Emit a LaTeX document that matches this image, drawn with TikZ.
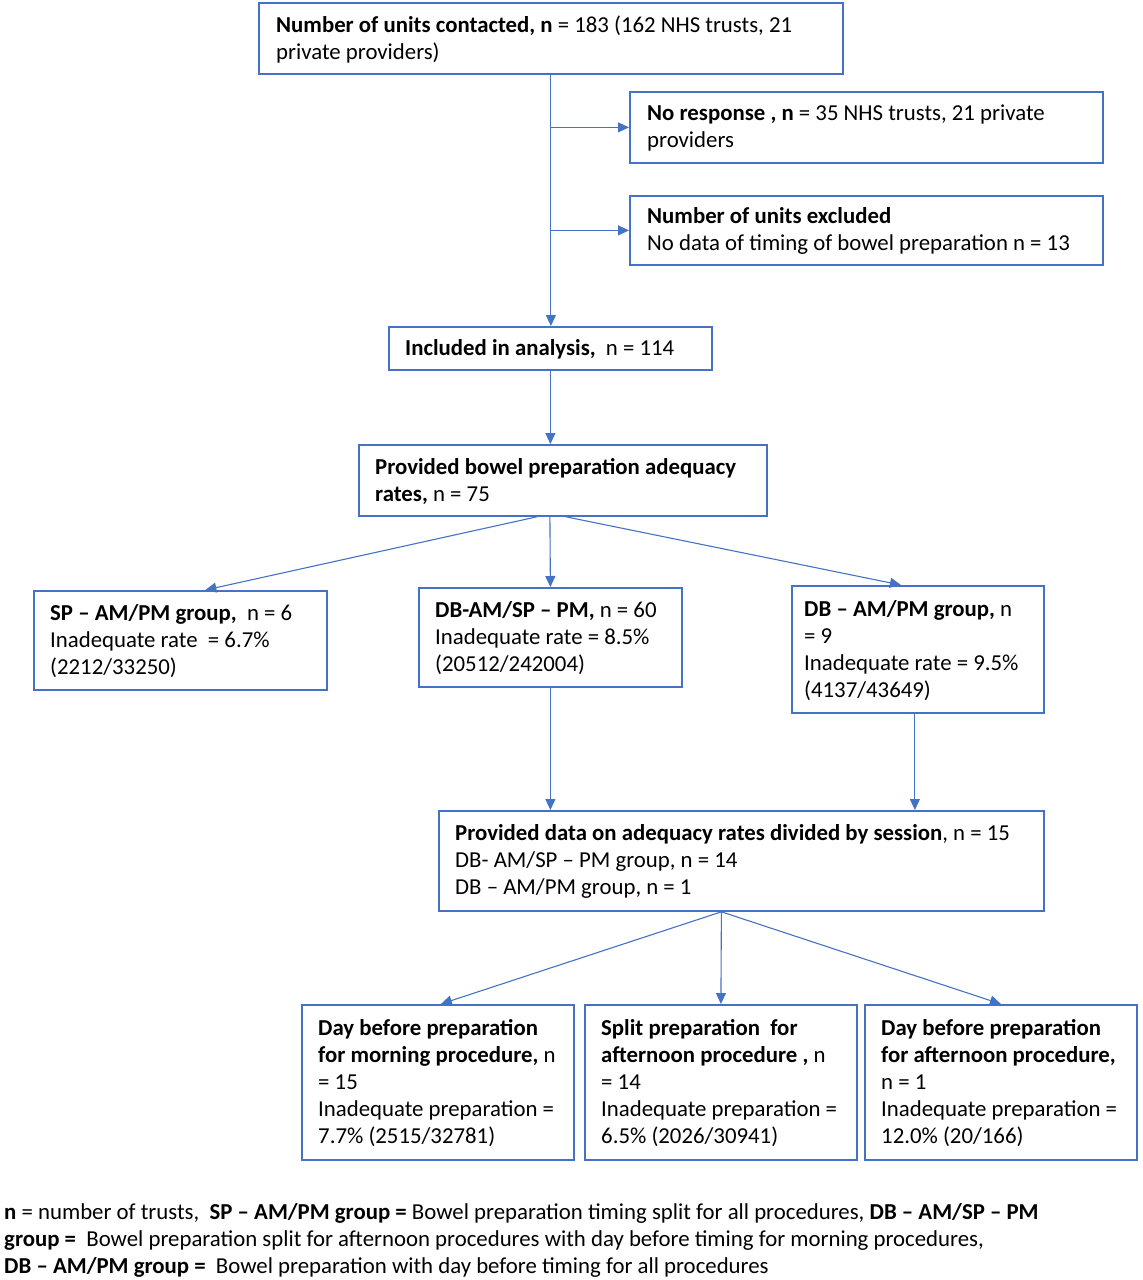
\documentclass[tikz,border=0pt]{standalone}
\usepackage{fontspec}
\setmainfont{Carlito}
\usetikzlibrary{arrows.meta,calc}
\definecolor{obl}{RGB}{68,114,196}
\begin{document}
\begin{tikzpicture}[x=1pt,y=-1pt,
  box/.style={draw=obl,line width=1.8pt,rectangle,inner sep=0pt,anchor=north west},
  txt/.style={anchor=west,align=left,inner sep=0pt,font=\fontsize{22.8}{27}\selectfont},
  arr/.style={draw=obl,line width=1.1pt,-{Triangle[length=11pt,width=10pt]}}]
\useasboundingbox (0,0) rectangle (1143,1280);
% boxes
\node[box,minimum width=584,minimum height=71] (top) at (258,2) {};
\node[txt] at ([xshift=18pt,yshift=-1pt]top.west) {\textbf{Number of units contacted, n} = 183 (162 NHS trusts, 21\\private providers)};
\node[box,minimum width=473,minimum height=71] (nr) at (629,91) {};
\node[txt] at ([xshift=18pt,yshift=-1pt]nr.west) {\textbf{No response , n} = 35 NHS trusts, 21 private\\providers};
\node[box,minimum width=473,minimum height=69] (ex) at (629,195) {};
\node[txt] at ([xshift=18pt,yshift=-1pt]ex.west) {\textbf{Number of units excluded}\\No data of timing of bowel preparation n = 13};
\node[box,minimum width=323,minimum height=43] (incl) at (388,326) {};
\node[txt] at ([xshift=17pt,yshift=-1pt]incl.west) {\textbf{Included in analysis,} ~n = 114};
\node[box,minimum width=408,minimum height=71] (prov) at (358,444) {};
\node[txt] at ([xshift=17pt,yshift=-1pt]prov.west) {\textbf{Provided bowel preparation adequacy}\\\textbf{rates,} n = 75};
\node[box,minimum width=293,minimum height=99] (sp) at (33,590) {};
\node[txt] at ([xshift=17pt,yshift=-1pt]sp.west) {\textbf{SP – AM/PM group,} ~n = 6\\Inadequate rate ~= 6.7\%\\(2212/33250)};
\node[box,minimum width=263,minimum height=99] (dbs) at (418,587) {};
\node[txt] at ([xshift=17pt,yshift=-1pt]dbs.west) {\textbf{DB-AM/SP – PM,} n = 60\\Inadequate rate = 8.5\%\\(20512/242004)};
\node[box,minimum width=252,minimum height=127] (dbb) at (791,585) {};
\node[txt] at ([xshift=13pt,yshift=-1pt]dbb.west) {\textbf{DB – AM/PM group,} n\\= 9\\Inadequate rate = 9.5\%\\(4137/43649)};
\node[box,minimum width=605,minimum height=100] (ses) at (438,810) {};
\node[txt] at ([xshift=17pt,yshift=-1pt]ses.west) {\textbf{Provided data on adequacy rates divided by session}, n = 15\\DB- AM/SP – PM group, n = 14\\DB – AM/PM group, n = 1};
\node[box,minimum width=272,minimum height=155] (bm) at (301,1004) {};
\node[txt] at ([xshift=17pt,yshift=-1pt]bm.west) {\textbf{Day before preparation}\\\textbf{for morning procedure,} n\\= 15\\Inadequate preparation =\\7.7\% (2515/32781)};
\node[box,minimum width=272,minimum height=155] (bs) at (584,1004) {};
\node[txt] at ([xshift=17pt,yshift=-1pt]bs.west) {\textbf{Split preparation ~for}\\\textbf{afternoon procedure ,} n\\= 14\\Inadequate preparation =\\6.5\% (2026/30941)};
\node[box,minimum width=272,minimum height=155] (ba) at (864,1004) {};
\node[txt] at ([xshift=17pt,yshift=-1pt]ba.west) {\textbf{Day before preparation}\\\textbf{for afternoon procedure,}\\n = 1\\Inadequate preparation =\\12.0\% (20/166)};
% footnote
\node[anchor=north west,align=left,inner sep=0pt,font=\fontsize{22.8}{27}\selectfont] (foot) at (4,1203)
 {\textbf{n} = number of trusts, ~\textbf{SP – AM/PM group =} Bowel preparation timing split for all procedures, \textbf{DB – AM/SP – PM}\\
  \textbf{group =} ~Bowel preparation split for afternoon procedures with day before timing for morning procedures,\\
  \textbf{DB – AM/PM group =} ~Bowel preparation with day before timing for all procedures};
% connectors
\draw[arr] (top.south) -- (top.south |- incl.north);
\coordinate (j1) at (top.south |- nr.west);
\coordinate (j2) at (top.south |- ex.west);
\draw[arr] (j1) -- (nr.west);
\draw[arr] (j2) -- (ex.west);
\draw[arr] (incl.south) -- (incl.south |- prov.north);
\draw[arr] ([xshift=-26pt]prov.south) -- ([xshift=25pt]sp.north);
\draw[arr] ([xshift=-13pt]prov.south) -- (dbs.north);
\draw[arr] ([xshift=3pt]prov.south) -- ([xshift=-17pt]dbb.north);
\draw[arr] (dbs.south) -- (dbs.south |- ses.north);
\draw[arr] ([xshift=-3pt]dbb.south) -- ([xshift=-3pt]dbb.south |- ses.north);
\draw[arr] ([xshift=-20pt]ses.south) -- ([xshift=3pt]bm.north);
\draw[arr] ([xshift=-20pt]ses.south) -- (bs.north);
\draw[arr] ([xshift=-20pt]ses.south) -- (ba.north);
\end{tikzpicture}
\end{document}
